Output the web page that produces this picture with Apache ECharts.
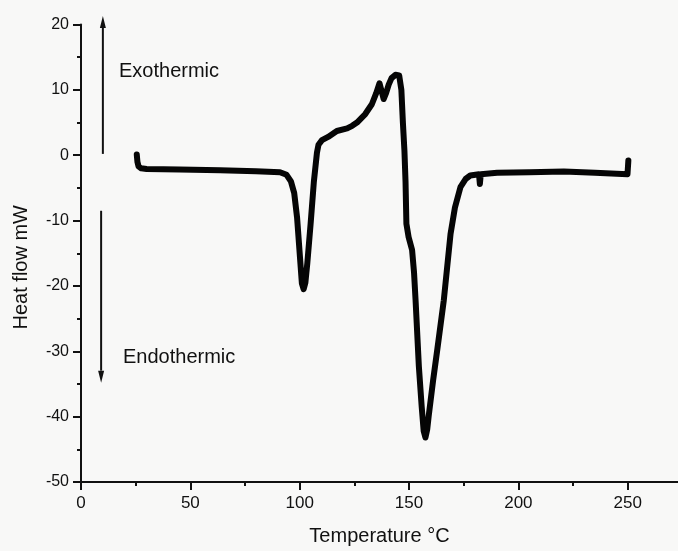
<!DOCTYPE html>
<html>
<head>
<meta charset="utf-8">
<script src="https://cdn.jsdelivr.net/npm/echarts@6/dist/echarts.min.js"></script>
<style>
  html, body { margin: 0; padding: 0; background: #f8f8f7; }
  #chart { width: 678px; height: 551px; }
</style>
</head>
<body>
<div id="chart"></div>
<script>
// DSC trace (temperature in °C, heat flow in mW)
var tempC = [25.5, 25.8, 26.3, 27.5, 30, 45, 63.6, 80, 91, 94, 96, 97.5, 98.8, 100, 101, 101.8, 102.6, 103.5, 105, 106.5,
    107.9, 108.6, 110.2, 113, 117, 121.7, 124, 126.2, 130, 133, 135, 136.5, 137.4, 138.4, 139.5, 140.7, 142, 143.8, 145.5, 146.5,
    147.2, 147.9, 148.4, 148.8, 149.8, 151.4, 152.3, 153, 154.5, 155.8, 156.7, 157.5, 158.3, 159, 161, 162.9, 165.9, 169, 171, 173.5,
    176, 178, 182, 182.4, 182.8, 190.3, 205, 220.8, 235, 249.9, 250.3];
var heatFlow = [0.1, -1.0, -1.7, -2.0, -2.1, -2.2, -2.3, -2.45, -2.6, -3.0, -4.0, -5.8, -9.5, -15, -19.6, -20.5, -19.5, -16.5, -10.5, -4,
    0.4, 1.6, 2.3, 2.8, 3.7, 4.1, 4.5, 5.0, 6.3, 7.8, 9.5, 11.0, 11.1, 8.6, 9.5, 10.8, 11.8, 12.3, 12.2, 10,
    5, 0.7, -4, -10.5, -12.5, -14.5, -18, -22.2, -32.3, -38.5, -42.2, -43.2, -42, -39.9, -34.5, -29.8, -22.2, -12, -8, -4.9,
    -3.6, -3.1, -2.9, -4.4, -2.9, -2.7, -2.6, -2.5, -2.7, -2.9, -0.8];
var xTicks = [0, 50, 100, 150, 200, 250];

// direction arrows (data units: from, to)
var exoArrow = [[10, 0.2], [10, 21.3]];
var endoArrow = [[9.2, -8.5], [9.2, -34.8]];

var points = tempC.map(function (t, i) { return [t, heatFlow[i]]; });

var chart = echarts.init(document.getElementById('chart'));
var font = '"Liberation Sans", Arial, sans-serif';

chart.setOption({
    backgroundColor: '#f8f8f7',
    animation: false,
    grid: { left: 81, right: 0, top: 24.5, bottom: 67 },
    xAxis: {
        type: 'value',
        min: 0,
        max: 273,
        interval: 50,
        name: 'Temperature °C',
        nameLocation: 'middle',
        nameGap: 44,
        nameTextStyle: { fontFamily: font, fontSize: 20, color: '#111' },
        axisLine: { onZero: false, lineStyle: { color: '#111', width: 2 } },
        axisTick: { length: 8, customValues: xTicks, lineStyle: { color: '#111', width: 2 } },
        minorTick: { show: true, splitNumber: 2, length: 4, lineStyle: { color: '#111', width: 2 } },
        axisLabel: { fontFamily: font, fontSize: 17, color: '#111', margin: 13, customValues: xTicks },
        splitLine: { show: false }
    },
    yAxis: {
        type: 'value',
        min: -50,
        max: 20,
        interval: 10,
        name: 'Heat flow mW',
        nameLocation: 'middle',
        nameGap: 50,
        nameTextStyle: { fontFamily: font, fontSize: 20, color: '#111', padding: [0, 28, 0, 0] },
        axisLine: { show: true, onZero: false, lineStyle: { color: '#111', width: 2 } },
        axisTick: { show: true, length: 8, lineStyle: { color: '#111', width: 2 } },
        minorTick: { show: true, splitNumber: 2, length: 4, lineStyle: { color: '#111', width: 2 } },
        axisLabel: { fontFamily: font, fontSize: 16, color: '#111', margin: 12 },
        splitLine: { show: false }
    },
    series: [{
        type: 'line',
        data: points,
        showSymbol: false,
        clip: false,
        lineStyle: { color: '#050505', width: 6, join: 'round', cap: 'round' }
    }]
});

// arrows are placed through the axes so they follow the scales
function arrow(seg) {
    var a = chart.convertToPixel({ gridIndex: 0 }, seg[0]);
    var b = chart.convertToPixel({ gridIndex: 0 }, seg[1]);
    var dir = b[1] < a[1] ? 1 : -1;   // 1 = pointing up
    var headLen = 12, headW = 3;
    var baseY = b[1] + dir * headLen;
    return [
        { type: 'line', shape: { x1: a[0], y1: a[1], x2: b[0], y2: baseY }, style: { stroke: '#111', lineWidth: 2 } },
        { type: 'polygon', shape: { points: [[b[0], b[1]], [b[0] - headW, baseY], [b[0] + headW, baseY]] }, style: { fill: '#111' } }
    ];
}

chart.setOption({
    graphic: arrow(exoArrow).concat(arrow(endoArrow)).concat([
        { type: 'text', left: 119, top: 61, style: { text: 'Exothermic', font: '20px ' + font, fill: '#111' } },
        { type: 'text', left: 123, top: 347, style: { text: 'Endothermic', font: '20px ' + font, fill: '#111' } }
    ])
});
</script>
</body>
</html>
